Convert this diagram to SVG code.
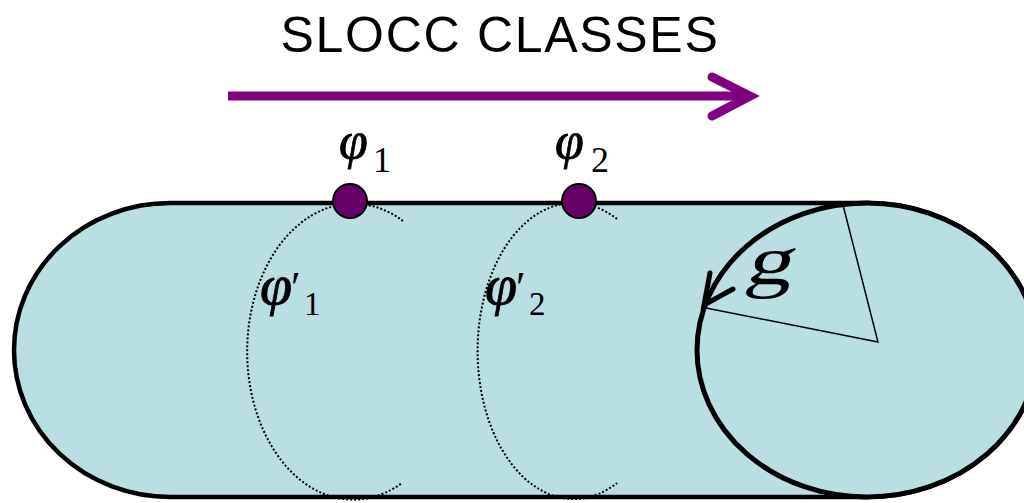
<svg xmlns="http://www.w3.org/2000/svg" width="1024" height="503" viewBox="0 0 1024 503">
<style>
.m{font-family:"Liberation Serif","Times New Roman",serif;font-style:italic;fill:#000;stroke:#000;stroke-width:0.8}
.s{font-family:"Liberation Serif","Times New Roman",serif;fill:#000}
.dot{fill:none;stroke:#000;stroke-width:2;stroke-dasharray:2,2}
.node{fill:#660066;stroke:#000;stroke-width:2}
</style>
<rect width="1024" height="503" fill="#fff"/>
<g id="title">
<text x="500" y="52" text-anchor="middle" font-family="Liberation Sans, Arial, sans-serif" font-size="50" letter-spacing="1.7">SLOCC CLASSES</text>
</g>
<g id="connectors">
<line x1="228" y1="96" x2="748" y2="96" stroke="#800080" stroke-width="9"/>
<polyline points="712,77 750,96 712,116" fill="none" stroke="#800080" stroke-width="9" stroke-linecap="round" stroke-linejoin="miter"/>
</g>
<g id="stadium">
<path d="M170,203 H867 A170,147 0 0 1 867,497 H170 A156,147 0 0 1 170,203 Z" fill="#B9DFE3" stroke="#000" stroke-width="4.5"/>
</g>
<g id="orbit1">
<path class="dot" d="M403,221 A106,148 0 1 0 402,483"/>
</g>
<g id="orbit2">
<path class="dot" d="M617,219 A96,148 0 1 0 617,483"/>
</g>
<g id="group-g">
<ellipse cx="867" cy="350" rx="170" ry="147" fill="#B9DFE3" stroke="#000" stroke-width="5"/>
<polyline points="843,205 878,342 706,308" fill="none" stroke="#000" stroke-width="1.5"/>
<polyline points="710,273 704,305 733,289" fill="none" stroke="#000" stroke-width="5" stroke-linecap="round"/>
<text class="s" font-size="70" transform="translate(744,284) skewX(-14) scale(1.35,1)">g</text>
</g>
<g id="node-phi1">
<circle class="node" cx="350" cy="201" r="17"/>
<text class="m" x="339" y="158" font-size="52">φ</text>
<text class="s" x="373" y="172" font-size="36">1</text>
</g>
<g id="node-phi2">
<circle class="node" cx="579" cy="201" r="17"/>
<text class="m" x="555" y="158" font-size="52">φ</text>
<text class="s" x="591" y="172" font-size="36">2</text>
</g>
<g id="label-phi1p">
<text class="m" x="260" y="304" font-size="58">φ</text>
<text class="s" x="291" y="302" font-size="44">′</text>
<text class="s" x="304" y="315" font-size="33">1</text>
</g>
<g id="label-phi2p">
<text class="m" x="485" y="304" font-size="58">φ</text>
<text class="s" x="516" y="302" font-size="44">′</text>
<text class="s" x="529" y="315" font-size="33">2</text>
</g>
</svg>
